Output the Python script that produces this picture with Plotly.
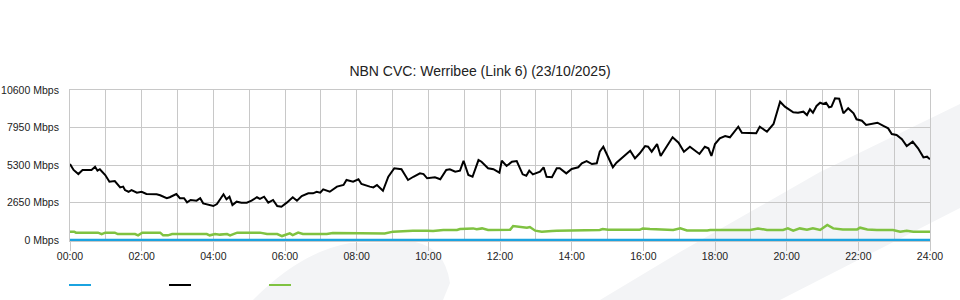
import plotly.graph_objects as go

# ---------------- data ----------------
title_text = "NBN CVC: Werribee (Link 6) (23/10/2025)"

x_tickvals = [0, 120, 240, 360, 480, 600, 720, 840, 960, 1080, 1200, 1320, 1440]
x_ticktext = ["00:00", "02:00", "04:00", "06:00", "08:00", "10:00", "12:00",
              "14:00", "16:00", "18:00", "20:00", "22:00", "24:00"]
y_tickvals = [0, 2650, 5300, 7950, 10600]
y_ticktext = ["0 Mbps", "2650 Mbps", "5300 Mbps", "7950 Mbps", "10600 Mbps"]

# time in minutes after midnight, values in Mbps
blue_t = [0, 360, 720, 1080, 1440]
blue_v = [0, 0, 0, 0, 0]

black_t = [0, 6, 14, 21, 36, 42, 46, 50, 59, 66,
           75, 84, 89, 92, 98, 103, 112, 120, 128, 145,
           151, 162, 167, 178, 184, 191, 196, 202, 212, 218,
           223, 229, 240, 246, 257, 262, 267, 272, 279, 287,
           296, 304, 313, 318, 325, 332, 340, 347, 354, 363,
           373, 380, 388, 399, 407, 413, 419, 424, 435, 447,
           458, 463, 474, 483, 488, 502, 508, 514, 524, 533,
           543, 555, 566, 575, 586, 592, 598, 611, 620, 630,
           636, 645, 653, 659, 667, 674, 684, 689, 700, 709,
           719, 723, 731, 740, 748, 758, 764, 769, 775, 787,
           793, 798, 807, 815, 820, 831, 840, 851, 857, 865,
           874, 882, 887, 893, 899, 909, 915, 926, 938, 946,
           954, 963, 968, 974, 983, 989, 999, 1009, 1019, 1028,
           1038, 1047, 1054, 1063, 1069, 1074, 1080, 1088, 1097, 1105,
           1119, 1125, 1139, 1149, 1155, 1167, 1178, 1183, 1189, 1197,
           1201, 1211, 1219, 1228, 1234, 1239, 1244, 1250, 1256, 1261,
           1266, 1271, 1275, 1281, 1288, 1295, 1303, 1312, 1317, 1326,
           1333, 1342, 1352, 1362, 1370, 1376, 1384, 1393, 1401, 1411,
           1420, 1429, 1435, 1440]
black_v = [5370, 4950, 4660, 4950, 4950, 5180, 4900, 5000, 4590, 4120,
           4170, 3720, 3770, 3530, 3410, 3530, 3340, 3410, 3250, 3230,
           3160, 2950, 3020, 3250, 2950, 2950, 2660, 2830, 2780, 2950,
           2590, 2520, 2400, 2540, 3230, 2880, 3060, 2470, 2710, 2640,
           2640, 2780, 3020, 2900, 3060, 2640, 2830, 2400, 2350, 2640,
           3020, 2780, 3110, 3300, 3300, 3410, 3340, 3580, 3410, 3770,
           3890, 4240, 4120, 4290, 3960, 3770, 3720, 3890, 3480, 4470,
           5070, 5000, 4240, 4470, 4710, 4660, 4360, 4430, 4290, 4950,
           5000, 4830, 4900, 5600, 4590, 4470, 5650, 5530, 5070, 5000,
           4760, 5600, 5230, 5530, 5580, 4640, 4540, 4900, 4640, 4830,
           5140, 4470, 4430, 5070, 5070, 4710, 5020, 5140, 5420, 5580,
           5370, 5420, 6240, 6590, 6010, 5140, 5460, 5890, 6310, 5770,
           6130, 6640, 6590, 6240, 6780, 5940, 6590, 7260, 6880, 6240,
           6590, 6310, 6080, 6590, 6480, 5940, 6780, 7190, 7350, 7260,
           8010, 7580, 7580, 7540, 8010, 7650, 8200, 8950, 9770, 9420,
           9310, 9020, 9000, 9070, 8830, 9240, 9000, 9470, 9700, 9610,
           9700, 9380, 9420, 10010, 9990, 8950, 9310, 8950, 8530, 8430,
           8130, 8200, 8290, 8060, 7890, 7490, 7420, 7120, 6640, 6950,
           6480, 5840, 5890, 5700]

green_t = [0, 7, 10, 47, 53, 59, 75, 80, 109, 114,
           121, 151, 156, 164, 171, 229, 234, 243, 251, 263,
           268, 280, 318, 325, 330, 347, 355, 368, 373, 382,
           390, 430, 440, 486, 527, 541, 558, 569, 574, 598,
           608, 625, 648, 653, 666, 675, 681, 690, 700, 720,
           737, 742, 753, 759, 765, 770, 779, 790, 799, 807,
           815, 837, 842, 887, 892, 901, 954, 959, 971, 988,
           1010, 1022, 1033, 1067, 1072, 1139, 1152, 1167, 1194, 1202,
           1211, 1222, 1234, 1244, 1256, 1268, 1278, 1294, 1318, 1323,
           1335, 1351, 1378, 1390, 1401, 1412, 1440]
green_v = [590, 590, 520, 520, 420, 520, 520, 420, 420, 330,
           520, 520, 330, 330, 420, 420, 330, 420, 380, 420,
           330, 520, 520, 450, 420, 420, 280, 470, 350, 520,
           420, 420, 500, 470, 460, 590, 640, 640, 660, 660,
           640, 710, 710, 780, 820, 820, 760, 820, 710, 710,
           720, 990, 940, 870, 870, 920, 660, 590, 590, 640,
           660, 660, 710, 710, 780, 720, 720, 820, 780, 740,
           710, 820, 680, 680, 710, 710, 820, 710, 710, 820,
           660, 820, 720, 820, 710, 1060, 820, 750, 750, 870,
           750, 710, 710, 590, 650, 590, 590]

# ---------------- style ----------------
BLUE = "#1ba3e0"
BLACK = "#000000"
GREEN = "#7fc241"
GRID = "#c8c8c8"
WM = "#f3f4f6"
TXT = "#222222"
FONT = "Liberation Sans, Arial, sans-serif"

W, H = 960, 300
ML, MR, MT, MB = 70, 30, 90, 59
PW, PH = W - ML - MR, H - MT - MB
Y_MAX = 10600
Y_MIN = -Y_MAX / 150.0


def pp(x, y):
    """pixel -> paper coordinates"""
    return (x - ML) / PW, (H - MB - y) / PH


def path(points):
    parts = []
    for cmd, pts in points:
        coords = " ".join("%.5f,%.5f" % pp(*p) for p in pts)
        parts.append(cmd + " " + coords)
    return " ".join(parts) + " Z"


fig = go.Figure()
fig.add_trace(go.Scatter(x=green_t, y=green_v, mode="lines",
                         line=dict(color=GREEN, width=2.5), showlegend=False,
                         hoverinfo="skip"))
fig.add_trace(go.Scatter(x=black_t, y=black_v, mode="lines",
                         line=dict(color=BLACK, width=2), showlegend=False,
                         hoverinfo="skip"))
fig.add_trace(go.Scatter(x=blue_t, y=blue_v, mode="lines",
                         line=dict(color=BLUE, width=2.5), showlegend=False,
                         hoverinfo="skip"))

shapes = []
# watermark: diagonal band
shapes.append(dict(type="path", xref="paper", yref="paper", layer="below",
                   fillcolor=WM, line=dict(width=0),
                   path=path([("M", [(600, 300)]), ("L", [(680, 252)]),
                              ("L", [(820, 172)]), ("L", [(960, 104)]),
                              ("L", [(960, 208)]), ("L", [(780, 300)])])))
# watermark: rounded blob
shapes.append(dict(type="path", xref="paper", yref="paper", layer="below",
                   fillcolor=WM, line=dict(width=0),
                   path=path([("M", [(253, 300)]), ("Q", [(300, 252), (350, 243)]),
                              ("L", [(415, 242)]), ("Q", [(445, 248), (450, 283)]),
                              ("L", [(443, 300)])])))
# legend swatches
for x0, col in [(69, BLUE), (169, BLACK), (269, GREEN)]:
    a = pp(x0, 285)
    b = pp(x0 + 22, 285)
    shapes.append(dict(type="line", xref="paper", yref="paper",
                       x0=a[0], y0=a[1], x1=b[0], y1=b[1],
                       line=dict(color=col, width=2)))

fig.update_layout(
    width=W, height=H,
    margin=dict(l=ML, r=MR, t=MT, b=MB, pad=0, autoexpand=False),
    paper_bgcolor="white",
    plot_bgcolor="rgba(0,0,0,0)",
    font=dict(family=FONT, size=10.5, color=TXT),
    title=dict(text=title_text, x=0.5, xanchor="center", xref="container",
               y=1 - 71 / H, yanchor="middle", yref="container",
               font=dict(family=FONT, size=14, color=TXT)),
    shapes=shapes,
    showlegend=False,
    xaxis=dict(range=[0, 1440], tickmode="array", tickvals=x_tickvals,
               ticktext=x_ticktext, showgrid=True, gridcolor=GRID, gridwidth=1,
               ticks="outside", ticklen=9, tickwidth=1, tickcolor=GRID,
               ticklabelstandoff=-4,
               minor=dict(tickmode="linear", tick0=0, dtick=60, showgrid=True,
                          gridcolor=GRID, gridwidth=1, ticks=""),
               showline=True, mirror=True, linecolor=GRID, linewidth=1,
               zeroline=False, fixedrange=True, automargin=False,
               tickfont=dict(family=FONT, size=10.5, color=TXT)),
    yaxis=dict(range=[Y_MIN, Y_MAX], tickmode="array", tickvals=y_tickvals,
               ticktext=y_ticktext, showgrid=True, gridcolor=GRID, gridwidth=1,
               ticks="", ticklabelstandoff=8,
               showline=True, mirror=True, linecolor=GRID, linewidth=1,
               zeroline=False, fixedrange=True, automargin=False,
               tickfont=dict(family=FONT, size=10.5, color=TXT)),
)

fig.write_html("out.html", config={"displayModeBar": False})
